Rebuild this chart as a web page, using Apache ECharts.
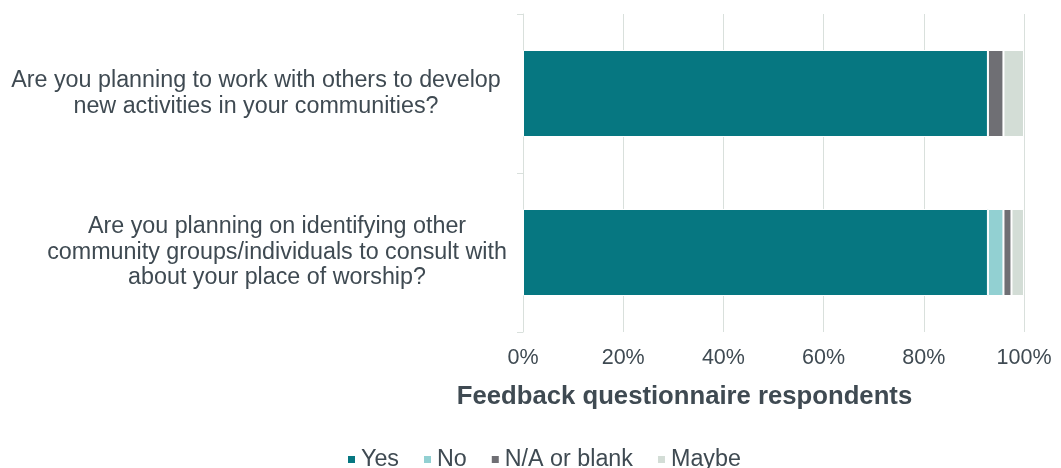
<!DOCTYPE html>
<html>
<head>
<meta charset="utf-8">
<script src="https://cdn.jsdelivr.net/npm/echarts@6/dist/echarts.min.js"></script>
<style>
  html, body { margin: 0; padding: 0; background: #fff; }
  #chart { width: 1061px; height: 468px; }
</style>
</head>
<body>
<div id="chart"></div>
<script>
// Survey questions (top to bottom)
const questions = [
  'Are you planning to work with others to develop\nnew activities in your communities?',
  'Are you planning on identifying other\ncommunity groups/individuals to consult with\nabout your place of worship?'
];

// Share of feedback questionnaire respondents (%)
const yesValues = [92.8, 92.8];
const noValues = [0, 3.1];
const naValues = [3.1, 1.6];
const maybeValues = [4.1, 2.5];

const xTicks = [0, 20, 40, 60, 80, 100];

const textColor = '#3f4a52';
const gridColor = '#d9e0dc';
const font = "'Liberation Sans', Arial, sans-serif";

const seriesDefs = [
  { name: 'Yes', data: yesValues, color: '#067781' },
  { name: 'No', data: noValues, color: '#92d0d2' },
  { name: 'N/A or blank', data: naValues, color: '#6f6f74' },
  { name: 'Maybe', data: maybeValues, color: '#d3ddd6' }
];

const chart = echarts.init(document.getElementById('chart'), null, { renderer: 'canvas' });

chart.setOption({
  animation: false,
  textStyle: { fontFamily: font, color: textColor },
  grid: { left: 523, right: 37, top: 14, bottom: 136, containLabel: false, outerBoundsMode: 'none' },
  legend: {
    bottom: -8,
    left: 341,
    icon: 'rect',
    itemWidth: 9,
    itemHeight: 9,
    itemGap: 23,
    textStyle: { fontFamily: font, fontSize: 23.3, color: textColor },
    data: seriesDefs.map(s => s.name)
  },
  xAxis: {
    type: 'value',
    min: xTicks[0],
    max: xTicks[xTicks.length - 1],
    interval: 20,
    axisLine: { show: false },
    axisTick: { show: false },
    splitLine: { show: true, lineStyle: { color: gridColor, width: 1 } },
    axisLabel: {
      formatter: '{value}%',
      fontFamily: font,
      fontSize: 21.5,
      color: textColor,
      margin: 15
    },
    name: 'Feedback questionnaire respondents',
    nameLocation: 'middle',
    nameGap: 52,
    nameTextStyle: {
      fontFamily: font,
      fontSize: 25.7,
      fontWeight: 'bold',
      color: textColor,
      padding: [0, 178, 0, 0]
    }
  },
  yAxis: {
    type: 'category',
    inverse: true,
    data: [
      { value: questions[0], textStyle: { align: 'center', lineHeight: 26 } },
      { value: questions[1], textStyle: { align: 'center', lineHeight: 25.5, padding: [0, 0, 0, 42] } }
    ],
    axisLine: { show: true, lineStyle: { color: gridColor, width: 1 } },
    axisTick: { show: true, length: 6, lineStyle: { color: gridColor } },
    axisLabel: {
      align: 'center',
      margin: 267,
      fontFamily: font,
      fontSize: 23.3,
      lineHeight: 26,
      color: textColor
    }
  },
  series: seriesDefs.map(s => ({
    name: s.name,
    type: 'bar',
    stack: 'total',
    barWidth: 87,
    data: s.data,
    itemStyle: { color: s.color, borderColor: '#ffffff', borderWidth: 1 }
  }))
});
</script>
</body>
</html>
